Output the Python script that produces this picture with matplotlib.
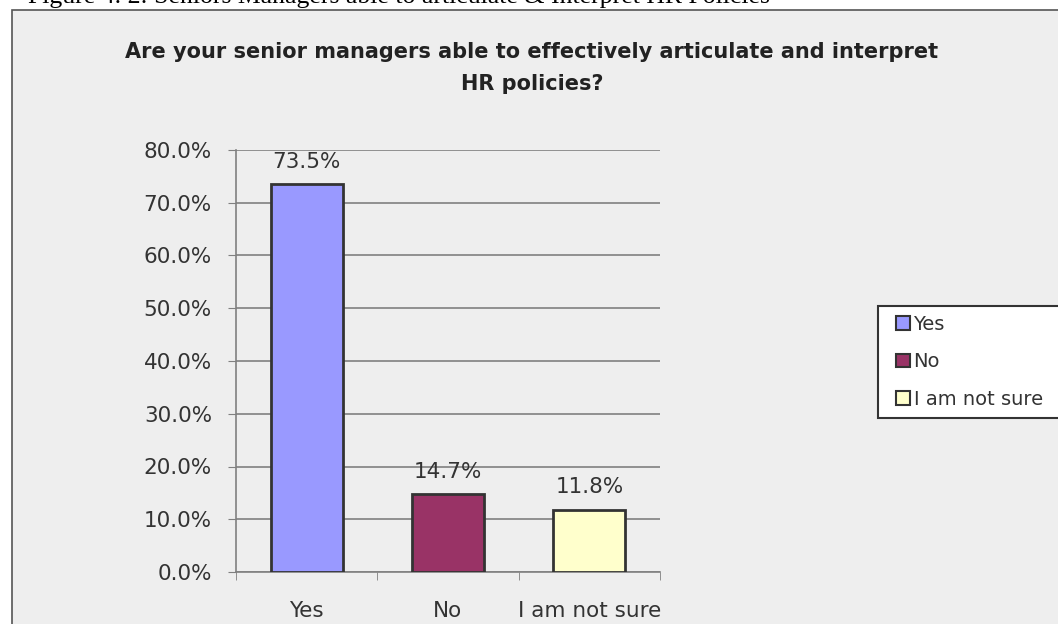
import matplotlib.pyplot as plt
from matplotlib.patches import Rectangle, Patch

categories = ['Yes', 'No', 'I am not sure']
shares = [73.5, 14.7, 11.8]
bar_colors = ['#9999ff', '#993366', '#ffffcc']
yticks = [0, 10, 20, 30, 40, 50, 60, 70, 80]

title = 'Are your senior managers able to effectively articulate and interpret\nHR policies?'
caption = 'Figure 4. 2: Seniors Managers able to articulate & Interpret HR Policies'

W, H = 1058, 624
fig = plt.figure(figsize=(W / 100, H / 100), dpi=100)
fig.patch.set_facecolor('white')

# grey chart frame
frame = Rectangle((12 / W, -0.1), 1.2, 1.1 - 10 / H, transform=fig.transFigure,
                  facecolor='#eeeeee', edgecolor='#555555', linewidth=1.2, zorder=-1)
fig.patches.append(frame)

fig.text(28 / W, 1 - 2.5 / H, caption, fontsize=18.5, family='Liberation Serif',
         va='baseline', ha='left')

fig.text(532 / W, 1 - 42 / H, title, fontsize=15, fontweight='bold',
         family='DejaVu Sans', ha='center', va='top', color='#222222',
         linespacing=1.78)

ax = fig.add_axes([236 / W, 1 - 572 / H, 424 / W, 422 / H])
ax.set_zorder(2)
ax.set_facecolor('none')
x = list(range(len(categories)))
bars = ax.bar(x, shares, width=0.51, color=bar_colors, edgecolor='#333333',
              linewidth=2, zorder=3)
for xi, v in zip(x, shares):
    ax.text(xi, v + 3.1, f'{v:.1f}%', ha='center', va='baseline', fontsize=15.5,
            family='DejaVu Sans', color='#333333')

ax.set_xlim(-0.5, 2.5)
ax.set_ylim(0, 80)
ax.set_yticks(yticks)
ax.set_yticklabels([f'{t:.1f}%' for t in yticks], fontsize=15.5,
                   family='DejaVu Sans', color='#333333')
ax.yaxis.grid(True, color='#808080', linewidth=1.2, zorder=0)
ax.tick_params(axis='y', length=5.8, color='#808080', pad=11.5)

ax.set_xticks(x)
ax.set_xticklabels(categories, fontsize=15.5, family='DejaVu Sans', color='#333333')
ax.set_xticks([-0.5, 0.5, 1.5, 2.5], minor=True)
ax.tick_params(axis='x', which='major', length=0, pad=21)
ax.tick_params(axis='x', which='minor', length=5.8, color='#808080')

for s in ['top', 'right']:
    ax.spines[s].set_visible(False)
for s in ['left', 'bottom']:
    ax.spines[s].set_color('#808080')
    ax.spines[s].set_linewidth(1.2)

# legend box drawn separately, runs off the right edge
legbox = Rectangle((878 / W, 1 - 418 / H), 0.3, 112 / H, transform=fig.transFigure,
                   facecolor='white', edgecolor='#333333', linewidth=1.5, zorder=4)
fig.patches.append(legbox)
handles = [Patch(facecolor=c, edgecolor='#333333', linewidth=1.5) for c in bar_colors]
leg = fig.legend(handles, categories, loc='upper left',
                 bbox_to_anchor=(896 / W, 1 - 315 / H), frameon=False,
                 prop={'family': 'DejaVu Sans', 'size': 14},
                 handlelength=0.7, handleheight=0.7, handletextpad=0.2,
                 labelspacing=0.95, borderpad=0, borderaxespad=0)
leg.set_zorder(5)
for t in leg.get_texts():
    t.set_color('#333333')

fig.savefig('out.png', dpi=100)
